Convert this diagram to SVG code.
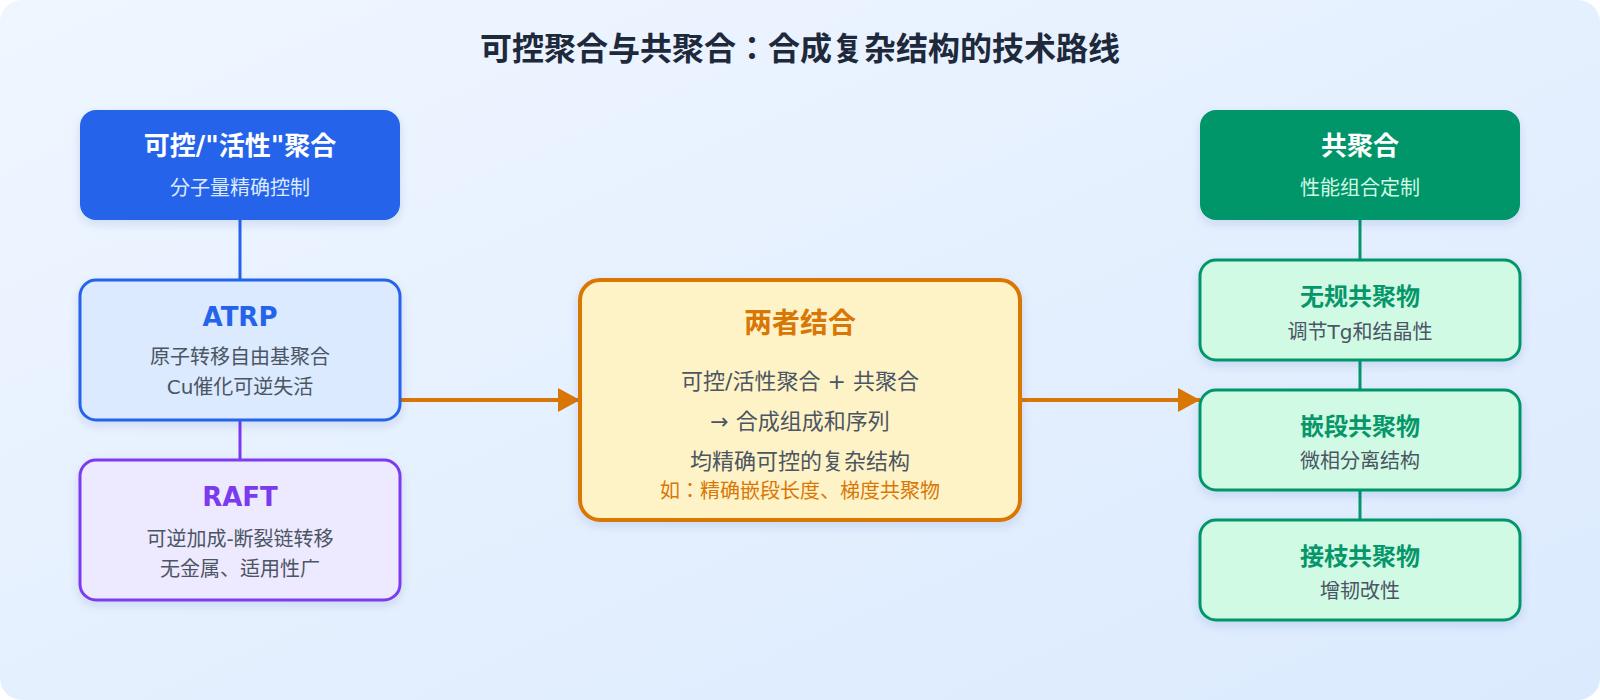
<svg xmlns="http://www.w3.org/2000/svg" width="1600" height="700" viewBox="0 0 1600 700">
<defs>
<linearGradient id="bg" x1="0" y1="0" x2="1" y2="1">
<stop offset="0" stop-color="#eff6ff"/>
<stop offset="1" stop-color="#dbeafe"/>
</linearGradient>
<filter id="sh" x="-10%" y="-10%" width="120%" height="130%">
<feDropShadow dx="0" dy="4" stdDeviation="5" flood-color="#1e3a8a" flood-opacity="0.12"/>
</filter>
<marker id="arr" viewBox="0 0 22 24" refX="22" refY="12" markerWidth="22" markerHeight="24" markerUnits="userSpaceOnUse" orient="auto">
<path d="M0,0 L22,12 L0,24 Z" fill="#d97706"/>
</marker>
<style>
text{font-family:"DejaVu Sans","Noto Sans CJK JP","Noto Sans CJK SC",sans-serif;text-anchor:middle}
.title{font-size:32px;font-weight:bold;fill:#1e293b}
.h{font-size:26px;font-weight:bold}
.h2{font-size:24px;font-weight:bold;fill:#059669}
.s{font-size:20px;fill:#4b5563}
.m{font-size:22px;fill:#4b5563}
.w{fill:#ffffff}
.ws{font-size:20px;fill:#dbeafe}
.wg{font-size:20px;fill:#d1fae5}
.box{filter:url(#sh)}
</style>
</defs>
<rect x="0" y="0" width="1600" height="700" rx="22" fill="url(#bg)"/>
<text class="title" x="800" y="60">可控聚合与共聚合：合成复杂结构的技术路线</text>

<g id="connectors" fill="none">
<line x1="240" y1="220" x2="240" y2="280" stroke="#2563eb" stroke-width="3"/>
<line x1="240" y1="420" x2="240" y2="460" stroke="#7c3aed" stroke-width="3"/>
<line x1="1360" y1="220" x2="1360" y2="260" stroke="#059669" stroke-width="3"/>
<line x1="1360" y1="360" x2="1360" y2="390" stroke="#059669" stroke-width="3"/>
<line x1="1360" y1="490" x2="1360" y2="520" stroke="#059669" stroke-width="3"/>
<line x1="400" y1="400" x2="580" y2="400" stroke="#d97706" stroke-width="4" marker-end="url(#arr)"/>
<line x1="1020" y1="400" x2="1200" y2="400" stroke="#d97706" stroke-width="4" marker-end="url(#arr)"/>
</g>

<g id="controlled">
<rect class="box" x="80" y="110" width="320" height="110" rx="16" fill="#2563eb"/>
<text class="h w" x="240" y="155">可控/"活性"聚合</text>
<text class="ws" x="240" y="195">分子量精确控制</text>
</g>

<g id="atrp">
<rect class="box" x="80" y="280" width="320" height="140" rx="16" fill="#dbeafe" stroke="#2563eb" stroke-width="3"/>
<text class="h" x="240" y="326" fill="#2563eb">ATRP</text>
<text class="s" x="240" y="364">原子转移自由基聚合</text>
<text class="s" x="240" y="394">Cu催化可逆失活</text>
</g>

<g id="raft">
<rect class="box" x="80" y="460" width="320" height="140" rx="16" fill="#ede9fe" stroke="#7c3aed" stroke-width="3"/>
<text class="h" x="240" y="506" fill="#7c3aed">RAFT</text>
<text class="s" x="240" y="546">可逆加成-断裂链转移</text>
<text class="s" x="240" y="576">无金属、适用性广</text>
</g>

<g id="combine">
<rect class="box" x="580" y="280" width="440" height="240" rx="20" fill="#fef3c7" stroke="#d97706" stroke-width="4"/>
<text x="800" y="333" style="font-size:28px;font-weight:bold;fill:#d97706">两者结合</text>
<text class="m" x="800" y="389">可控/活性聚合 + 共聚合</text>
<text class="m" x="800" y="429">→ 合成组成和序列</text>
<text class="m" x="800" y="469">均精确可控的复杂结构</text>
<text x="800" y="498" style="font-size:20px;fill:#d97706">如：精确嵌段长度、梯度共聚物</text>
</g>

<g id="copolymerization">
<rect class="box" x="1200" y="110" width="320" height="110" rx="16" fill="#059669"/>
<text class="h w" x="1360" y="155">共聚合</text>
<text class="wg" x="1360" y="195">性能组合定制</text>
</g>

<g id="random">
<rect class="box" x="1200" y="260" width="320" height="100" rx="16" fill="#d1fae5" stroke="#059669" stroke-width="3"/>
<text class="h2" x="1360" y="305">无规共聚物</text>
<text class="s" x="1360" y="339">调节Tg和结晶性</text>
</g>

<g id="block">
<rect class="box" x="1200" y="390" width="320" height="100" rx="16" fill="#d1fae5" stroke="#059669" stroke-width="3"/>
<text class="h2" x="1360" y="435">嵌段共聚物</text>
<text class="s" x="1360" y="468">微相分离结构</text>
</g>

<g id="graft">
<rect class="box" x="1200" y="520" width="320" height="100" rx="16" fill="#d1fae5" stroke="#059669" stroke-width="3"/>
<text class="h2" x="1360" y="565">接枝共聚物</text>
<text class="s" x="1360" y="598">增韧改性</text>
</g>
</svg>
